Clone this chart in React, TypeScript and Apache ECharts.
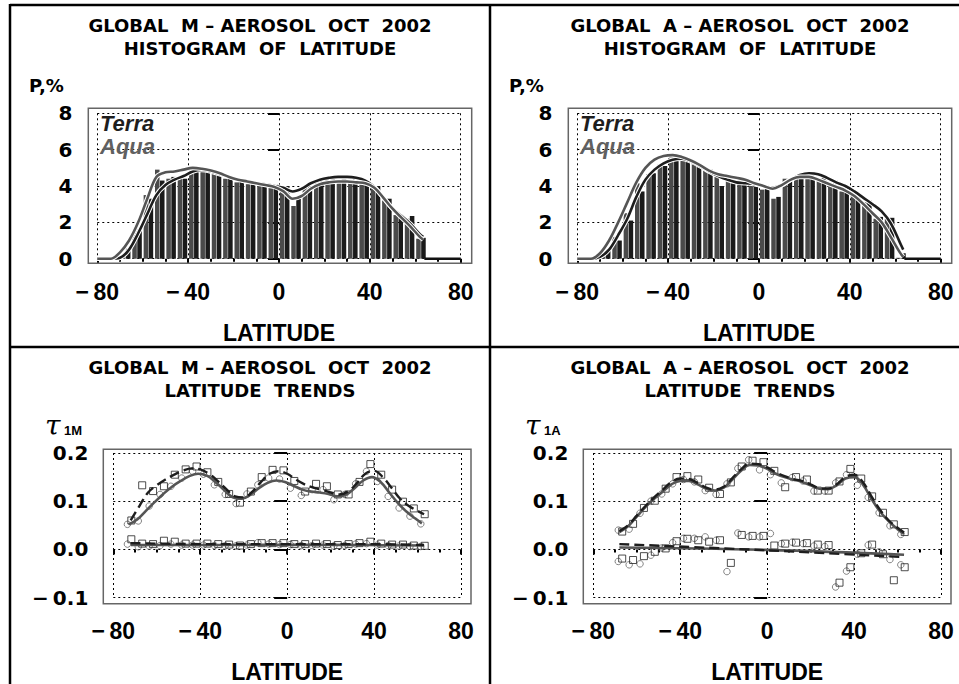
import React, { useEffect, useRef } from "react";
import * as echarts from "echarts";

// ---------- DATA ----------
const binLat = [-72.5, -67.5, -62.5, -57.5, -52.5, -47.5, -42.5, -37.5, -32.5, -27.5, -22.5, -17.5, -12.5, -7.5, -2.5, 2.5, 7.5, 12.5, 17.5, 22.5, 27.5, 32.5, 37.5, 42.5, 47.5, 52.5, 57.5, 62.5];

const mHistTerra = [0.0, 0.55, 1.6, 3.3, 4.3, 4.5, 4.4, 4.9, 4.8, 4.7, 4.5, 4.3, 4.1, 4.0, 4.1, 4.0, 3.3, 4.0, 4.3, 4.5, 4.5, 4.4, 4.3, 4.0, 3.3, 2.35, 2.35, 1.15];
const mHistAqua = [0.0, 0.2, 1.5, 3.5, 4.9, 4.4, 4.4, 5.1, 4.9, 4.7, 4.4, 4.2, 4.1, 4.0, 4.0, 3.9, 2.9, 4.0, 4.2, 4.4, 4.3, 4.2, 4.2, 3.9, 3.2, 2.4, 2.2, 1.1];
const aHistTerra = [0.0, 0.5, 1.0, 2.1, 3.7, 4.7, 5.1, 5.6, 5.5, 5.2, 4.9, 4.0, 4.2, 4.2, 4.2, 3.9, 3.4, 4.4, 4.6, 4.7, 4.5, 4.3, 3.9, 3.6, 3.2, 2.3, 2.25, 0.3];
const aHistAqua = [0.0, 0.4, 1.2, 2.5, 4.15, 4.65, 5.2, 5.65, 5.5, 5.2, 5.0, 4.5, 4.3, 4.3, 4.15, 3.8, 3.3, 4.4, 4.5, 4.7, 4.4, 4.1, 3.7, 3.5, 3.1, 2.2, 2.2, 0.05];

const curveLat = [-80, -74, -70, -66, -62, -58, -54, -50, -46, -42, -38, -34, -30, -26, -22, -18, -14, -10, -6, -2, 2, 6, 10, 14, 18, 22, 26, 30, 34, 38, 42, 46, 50, 54, 58, 62, 63.5];
const mCurveTerra = [0, 0, 0.05, 0.5, 1.4, 2.45, 3.5, 4.05, 4.35, 4.55, 4.8, 4.88, 4.8, 4.65, 4.5, 4.35, 4.25, 4.15, 4.1, 4.0, 3.9, 3.7, 3.85, 4.15, 4.35, 4.45, 4.5, 4.5, 4.45, 4.3, 3.95, 3.35, 2.75, 2.35, 1.9, 1.35, 1.2];
const mCurveAqua = [0, 0, 0.35, 1.0, 2.0, 3.3, 4.5, 4.75, 4.8, 4.9, 5.0, 4.95, 4.85, 4.7, 4.5, 4.35, 4.25, 4.15, 4.05, 3.95, 3.7, 3.3, 3.45, 3.85, 4.1, 4.2, 4.25, 4.25, 4.2, 4.15, 3.9, 3.35, 2.75, 2.25, 1.75, 1.2, 1.05];
const aCurveTerra = [0, 0, 0.1, 0.5, 1.3, 2.2, 3.4, 4.35, 4.9, 5.25, 5.45, 5.5, 5.35, 5.1, 4.8, 4.55, 4.35, 4.2, 4.15, 4.1, 4.0, 3.9, 4.05, 4.35, 4.6, 4.7, 4.65, 4.45, 4.2, 4.0, 3.7, 3.35, 3.0, 2.6, 1.95, 0.9, 0.5];
const aCurveAqua = [0, 0, 0.3, 1.0, 2.0, 3.1, 4.2, 5.0, 5.45, 5.65, 5.7, 5.6, 5.4, 5.15, 4.85, 4.65, 4.55, 4.45, 4.35, 4.15, 4.0, 3.85, 4.05, 4.35, 4.5, 4.5, 4.35, 4.15, 3.95, 3.75, 3.45, 3.0, 2.5, 2.0, 1.2, 0.35, 0.1];
const baseLat = [64, 80];
const baseVal = [0, 0];

// M-aerosol latitude trends (28 bins)
const mUpperSq = [0.060, 0.133, 0.121, 0.131, 0.155, 0.166, 0.172, 0.160, 0.140, 0.115, 0.097, 0.120, 0.150, 0.165, 0.164, 0.142, 0.120, 0.136, 0.131, 0.114, 0.114, 0.140, 0.177, 0.155, 0.124, 0.099, 0.085, 0.073];
const mUpperCi = [0.052, 0.059, 0.090, 0.114, 0.131, 0.148, 0.162, 0.156, 0.134, 0.114, 0.095, 0.115, 0.134, 0.148, 0.146, 0.127, 0.112, 0.124, 0.124, 0.103, 0.114, 0.136, 0.162, 0.141, 0.110, 0.086, 0.069, 0.053];
const mLowerSq = [0.021, 0.012, 0.011, 0.018, 0.016, 0.012, 0.012, 0.012, 0.011, 0.010, 0.008, 0.011, 0.013, 0.013, 0.013, 0.011, 0.011, 0.012, 0.011, 0.009, 0.011, 0.013, 0.016, 0.012, 0.010, 0.010, 0.008, 0.0075];
const mLowerCi = [0.011, 0.0055, 0.007, 0.008, 0.011, 0.009, 0.009, 0.009, 0.008, 0.0075, 0.0075, 0.009, 0.014, 0.011, 0.010, 0.010, 0.008, 0.008, 0.009, 0.007, 0.008, 0.011, 0.012, 0.009, 0.008, 0.007, 0.006, 0.006];

const mFitLatT = [-72, -68, -64, -60, -56, -52, -48, -44, -40, -36, -32, -28, -24, -20, -16, -12, -8, -4, 0, 4, 8, 12, 16, 20, 24, 28, 32, 36, 40, 44, 48, 52, 56, 60, 63];
const mFitT = [0.06, 0.09, 0.118, 0.133, 0.145, 0.155, 0.163, 0.168, 0.166, 0.157, 0.142, 0.125, 0.11, 0.108, 0.12, 0.14, 0.157, 0.162, 0.157, 0.145, 0.135, 0.128, 0.124, 0.118, 0.114, 0.12, 0.137, 0.157, 0.163, 0.15, 0.128, 0.105, 0.09, 0.08, 0.073];
const mFitLatA = [-73, -69, -65, -61, -57, -53, -49, -45, -41, -37, -33, -29, -25, -21, -17, -13, -9, -5, -1, 3, 7, 11, 15, 19, 23, 27, 31, 35, 39, 43, 47, 51, 55, 59, 62];
const mFitA = [0.052, 0.062, 0.08, 0.098, 0.115, 0.13, 0.142, 0.152, 0.157, 0.153, 0.14, 0.123, 0.108, 0.105, 0.113, 0.127, 0.138, 0.143, 0.14, 0.132, 0.124, 0.12, 0.118, 0.115, 0.11, 0.113, 0.127, 0.143, 0.15, 0.14, 0.118, 0.096, 0.078, 0.064, 0.054];
const mLowFitLat = [-72, -36, 0, 36, 63];
const mLowFitT = [0.013, 0.011, 0.011, 0.011, 0.009];
const mLowFitA = [0.009, 0.009, 0.0095, 0.009, 0.008];

// A-aerosol latitude trends (27 bins, from -67.5)
const aUpperSq = [0.037, 0.053, 0.086, 0.101, 0.126, 0.150, 0.152, 0.145, 0.128, 0.115, 0.139, 0.172, 0.184, 0.181, 0.163, 0.129, 0.150, 0.145, 0.122, 0.122, 0.141, 0.167, 0.147, 0.110, 0.076, 0.052, 0.036];
const aUpperCi = [0.040, 0.042, 0.075, 0.100, 0.115, 0.136, 0.145, 0.140, 0.122, 0.114, 0.136, 0.168, 0.186, 0.165, 0.155, 0.138, 0.149, 0.142, 0.121, 0.121, 0.138, 0.155, 0.133, 0.108, 0.076, 0.049, 0.031];
const aLowerSq = [-0.019, -0.022, -0.014, -0.005, 0.002, 0.017, 0.022, 0.019, 0.016, 0.019, -0.028, 0.030, 0.028, 0.028, 0.008, 0.012, 0.014, 0.013, 0.010, 0.009, -0.069, -0.037, -0.008, 0.010, -0.010, -0.064, -0.037];
const aLowerCi = [-0.025, -0.032, -0.030, -0.012, 0.003, 0.014, 0.023, 0.023, 0.026, 0.019, -0.046, 0.034, 0.026, 0.026, 0.033, 0.012, 0.015, 0.012, 0.007, 0.006, -0.078, -0.045, -0.010, 0.009, -0.005, -0.021, -0.032];

const aFitLat = [-68, -64, -60, -56, -52, -48, -44, -40, -36, -32, -28, -24, -20, -16, -12, -8, -4, 0, 4, 8, 12, 16, 20, 24, 28, 32, 36, 40, 44, 48, 52, 56, 60, 63];
const aFitT = [0.038, 0.05, 0.07, 0.09, 0.108, 0.124, 0.14, 0.147, 0.146, 0.138, 0.128, 0.124, 0.13, 0.148, 0.166, 0.178, 0.177, 0.17, 0.16, 0.152, 0.146, 0.142, 0.135, 0.127, 0.126, 0.135, 0.15, 0.155, 0.14, 0.11, 0.082, 0.06, 0.045, 0.035];
const aFitA = [0.036, 0.048, 0.068, 0.088, 0.105, 0.12, 0.135, 0.142, 0.142, 0.135, 0.126, 0.122, 0.128, 0.145, 0.163, 0.175, 0.174, 0.167, 0.157, 0.15, 0.145, 0.14, 0.133, 0.126, 0.125, 0.133, 0.147, 0.15, 0.135, 0.105, 0.078, 0.058, 0.042, 0.032];
const aLowFitLat = [-68, 0, 63];
const aLowFitT = [0.011, -0.002, -0.016];
const aLowFitA = [0.004, -0.001, -0.011];

const xTicks = [-80, -40, 0, 40, 80];
const histTicks = [0, 2, 4, 6, 8];
const trendTicks = [-0.1, 0.0, 0.1, 0.2];

const NB = "\u00A0";
const titles = [
  [`GLOBAL${NB}${NB}M${NB}\u2013${NB}AEROSOL${NB}${NB}OCT${NB}${NB}2002`, `HISTOGRAM${NB}${NB}OF${NB}${NB}LATITUDE`],
  [`GLOBAL${NB}${NB}A${NB}\u2013${NB}AEROSOL${NB}${NB}OCT${NB}${NB}2002`, `HISTOGRAM${NB}${NB}OF${NB}${NB}LATITUDE`],
  [`GLOBAL${NB}${NB}M${NB}\u2013${NB}AEROSOL${NB}${NB}OCT${NB}${NB}2002`, `LATITUDE${NB}${NB}TRENDS`],
  [`GLOBAL${NB}${NB}A${NB}\u2013${NB}AEROSOL${NB}${NB}OCT${NB}${NB}2002`, `LATITUDE${NB}${NB}TRENDS`],
];

// ---------- STYLE ----------
const TERRA = "#1e1e1e";
const AQUA = "#555555";
const SANS = '"Liberation Sans", Arial, sans-serif';
const WIDE = '"DejaVu Sans", sans-serif';

const zip = (xs: number[], ys: number[], dx = 0) => xs.map((x, i) => [x + dx, ys[i]]);
const minusFmt = (v: number, digits: number) => {
  const s = Math.abs(v).toFixed(digits);
  return v < -1e-9 ? "\u2212\u2009" + s : s;
};

const App: React.FC = () => {
  const ref = useRef<HTMLDivElement>(null);

  useEffect(() => {
    if (!ref.current) return;
    const chart = echarts.init(ref.current, undefined, { renderer: "svg" });

    const panelX = [0, 480, 0, 480];
    const grids = [
      { left: 97.3, top: 113.3, width: 363.4, height: 145.4 },
      { left: 577.3, top: 113.3, width: 363.4, height: 145.4 },
      { left: 113.3, top: 453, width: 347.7, height: 146.3 },
      { left: 593.3, top: 453, width: 347.7, height: 146.3 },
    ];
    const frames = [
      { x: 88.3, y: 108.3, w: 383.4, h: 155 },
      { x: 568.3, y: 108.3, w: 383.4, h: 155 },
      { x: 103.3, y: 449.3, w: 367.7, h: 154.4 },
      { x: 583.3, y: 449.3, w: 367.7, h: 154.4 },
    ];

    const xAxes = grids.map((g, i) => ({
      type: "value",
      gridIndex: i,
      min: xTicks[0],
      max: xTicks[xTicks.length - 1],
      interval: 40,
      offset: i < 2 ? 4.6 : 4.4,
      axisLine: { show: false },
      axisTick: { show: true, length: 5, lineStyle: { color: "#000", width: 2 } },
      minorTick: { show: true, splitNumber: 4, length: 3, lineStyle: { color: "#000", width: 2 } },
      axisLabel: {
        margin: 17,
        color: "#000",
        fontFamily: SANS,
        fontWeight: "bold",
        fontSize: 23,
        formatter: (v: number) => minusFmt(v, 0),
      },
      splitLine: { show: true, lineStyle: { color: "#000", width: 1, type: [2, 3] } },
      name: "LATITUDE",
      nameLocation: "middle",
      nameGap: 58,
      nameTextStyle: { color: "#000", fontFamily: SANS, fontWeight: "bold", fontSize: 23 },
    }));

    const yAxes = grids.map((g, i) => {
      const hist = i < 2;
      const ticks = hist ? histTicks : trendTicks;
      return {
        type: "value",
        gridIndex: i,
        min: ticks[0],
        max: ticks[ticks.length - 1],
        interval: hist ? 2 : 0.1,
        offset: hist ? 9 : 10,
        axisLine: { show: false },
        axisTick: { show: true, length: hist ? 11 : 13, lineStyle: { color: "#000", width: 2 } },
        axisLabel: {
          margin: hist ? 16 : 15,
          color: "#000",
          fontFamily: WIDE,
          fontWeight: "bold",
          fontSize: 20,
          formatter: (v: number) => minusFmt(v, hist ? 0 : 1),
        },
        splitLine: { show: true, lineStyle: { color: "#000", width: 1, type: [2, 3] } },
      };
    });

    const barItem = (offsetDeg: number, widthDeg: number, color: string) => (_p: any, api: any) => {
      const c = api.value(0) + offsetDeg;
      const v = api.value(1);
      const p0 = api.coord([c - widthDeg / 2, 0]);
      const p1 = api.coord([c + widthDeg / 2, v]);
      return {
        type: "rect",
        shape: { x: p0[0], y: p1[1], width: p1[0] - p0[0], height: p0[1] - p1[1] },
        style: { fill: color },
      };
    };

    const series: any[] = [];
    const hists = [
      { terra: mHistTerra, aqua: mHistAqua, cT: mCurveTerra, cA: mCurveAqua },
      { terra: aHistTerra, aqua: aHistAqua, cT: aCurveTerra, cA: aCurveAqua },
    ];
    hists.forEach((h, i) => {
      const ax = { xAxisIndex: i, yAxisIndex: i };
      series.push({ type: "custom", ...ax, renderItem: barItem(-1.1, 2.0, "#4a4a4a"), data: zip(binLat, h.aqua), clip: false, z: 2 });
      series.push({ type: "custom", ...ax, renderItem: barItem(1.1, 2.0, "#1a1a1a"), data: zip(binLat, h.terra), clip: false, z: 2 });
      [
        { d: h.cT, c: TERRA },
        { d: h.cA, c: AQUA },
      ].forEach((cv, k) => {
        series.push({ type: "line", ...ax, data: zip(curveLat, cv.d), smooth: 0.35, showSymbol: false, clip: false, z: 3 + k * 2, lineStyle: { color: "#fff", width: 4.6 } });
        series.push({ type: "line", ...ax, data: zip(curveLat, cv.d), smooth: 0.35, showSymbol: false, clip: false, z: 4 + k * 2, lineStyle: { color: cv.c, width: 2.6 } });
      });
      series.push({ type: "line", ...ax, data: zip(baseLat, baseVal), showSymbol: false, clip: false, z: 8, lineStyle: { color: "#111", width: 2.6 } });
    });

    const trends = [
      { idx: 2, lat: binLat, uSq: mUpperSq, uCi: mUpperCi, lSq: mLowerSq, lCi: mLowerCi, fLT: mFitLatT, fT: mFitT, fLA: mFitLatA, fA: mFitA, lfLat: mLowFitLat, lfT: mLowFitT, lfA: mLowFitA },
      { idx: 3, lat: binLat.slice(1), uSq: aUpperSq, uCi: aUpperCi, lSq: aLowerSq, lCi: aLowerCi, fLT: aFitLat, fT: aFitT, fLA: aFitLat, fA: aFitA, lfLat: aLowFitLat, lfT: aLowFitT, lfA: aLowFitA },
    ];
    trends.forEach((t) => {
      const ax = { xAxisIndex: t.idx, yAxisIndex: t.idx };
      const sq = { symbol: "rect", symbolSize: 7, itemStyle: { color: "rgba(255,255,255,0)", borderColor: "#222", borderWidth: 1 } };
      const ci = { symbol: "circle", symbolSize: 6.5, itemStyle: { color: "rgba(255,255,255,0)", borderColor: "#666", borderWidth: 1 } };
      series.push({ type: "scatter", ...ax, ...ci, data: zip(t.lat, t.uCi, -1), z: 2 });
      series.push({ type: "scatter", ...ax, ...ci, data: zip(t.lat, t.lCi, -1), z: 2 });
      series.push({ type: "scatter", ...ax, ...sq, data: zip(t.lat, t.uSq, 0.8), z: 2 });
      series.push({ type: "scatter", ...ax, ...sq, data: zip(t.lat, t.lSq, 0.8), z: 2 });
      series.push({ type: "line", ...ax, data: zip(t.fLA, t.fA), smooth: 0.4, showSymbol: false, z: 3, lineStyle: { color: AQUA, width: 2.6 } });
      series.push({ type: "line", ...ax, data: zip(t.fLT, t.fT), smooth: 0.4, showSymbol: false, z: 4, lineStyle: { color: TERRA, width: 2.4, type: [10, 5] } });
      series.push({ type: "line", ...ax, data: zip(t.lfLat, t.lfA), smooth: 0.4, showSymbol: false, z: 3, lineStyle: { color: AQUA, width: 2.6 } });
      series.push({ type: "line", ...ax, data: zip(t.lfLat, t.lfT), smooth: 0.4, showSymbol: false, z: 4, lineStyle: { color: TERRA, width: 2.4, type: [10, 5] } });
    });

    const graphics: any[] = [];
    const blk = { stroke: "#000", lineWidth: 2.5 };
    graphics.push({ type: "line", shape: { x1: 10, y1: 5, x2: 959, y2: 5 }, style: blk, z: 100 });
    graphics.push({ type: "line", shape: { x1: 10, y1: 4, x2: 10, y2: 684 }, style: blk, z: 100 });
    graphics.push({ type: "line", shape: { x1: 490, y1: 4, x2: 490, y2: 684 }, style: blk, z: 100 });
    graphics.push({ type: "line", shape: { x1: 10, y1: 347, x2: 959, y2: 347 }, style: blk, z: 100 });
    frames.forEach((f) => {
      graphics.push({ type: "rect", shape: { x: f.x, y: f.y, width: f.w, height: f.h }, style: { fill: "none", stroke: "#666", lineWidth: 1.5 }, z: 50 });
    });
    const mid = { textVerticalAlign: "middle", verticalAlign: "middle" };
    titles.forEach((tt, i) => {
      const ox = panelX[i];
      const oy = i < 2 ? 0 : 342;
      tt.forEach((line, k) => {
        graphics.push({
          type: "text",
          x: ox + 260,
          y: oy + 25.3 + k * 23,
          style: { text: line, fill: "#000", font: `bold 18px ${WIDE}`, textAlign: "center", ...mid },
          z: 100,
        });
      });
      if (i < 2) {
        graphics.push({ type: "text", x: ox + 29, y: 85.5, style: { text: "P,%", fill: "#000", font: `bold 18px ${WIDE}`, textAlign: "left", ...mid }, z: 100 });
        graphics.push({ type: "text", x: ox + 100, y: 123, style: { text: "Terra", fill: TERRA, font: `italic bold 22px ${SANS}`, textAlign: "left", ...mid }, z: 100 });
        graphics.push({ type: "text", x: ox + 100, y: 146.5, style: { text: "Aqua", fill: "#606060", font: `italic bold 22px ${SANS}`, textAlign: "left", ...mid }, z: 100 });
      } else {
        graphics.push({ type: "text", x: ox + 45, y: 425, style: { text: "\u03C4", fill: "#000", font: `italic 28px "DejaVu Serif", serif`, textAlign: "left", ...mid }, z: 100 });
        graphics.push({ type: "text", x: ox + 64, y: 430, style: { text: i === 2 ? "1M" : "1A", fill: "#000", font: `bold 13px ${SANS}`, textAlign: "left", ...mid }, z: 100 });
      }
    });

    chart.setOption({
      animation: false,
      backgroundColor: "#fff",
      grid: grids.map((g) => ({ ...g, containLabel: false })),
      xAxis: xAxes,
      yAxis: yAxes,
      series,
      graphic: { elements: graphics },
    });

    return () => chart.dispose();
  }, []);

  return <div ref={ref} style={{ position: "fixed", left: 0, top: 0, width: 959, height: 684, background: "#fff" }} />;
};

export default App;
